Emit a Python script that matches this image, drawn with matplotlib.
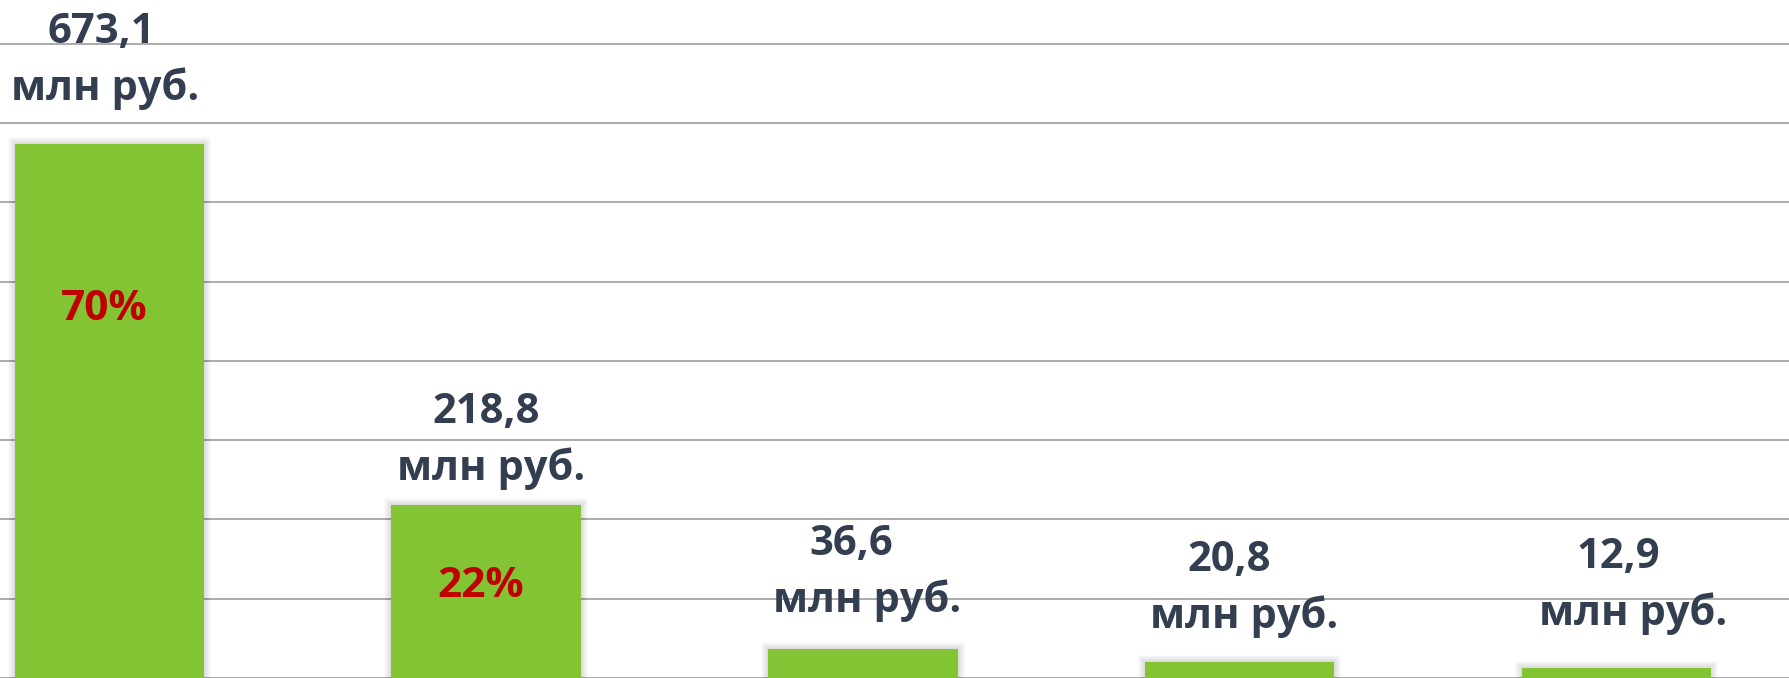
import matplotlib
matplotlib.use('Agg')
import matplotlib.pyplot as plt

# Dados do gráfico (млн руб.)
valores = [673.1, 218.8, 36.6, 20.8, 12.9]
rotulos_valor = ['673,1', '218,8', '36,6', '20,8', '12,9']
rotulo_unidade = 'млн руб.'
percentuais = ['70%', '22%']

# Ajustes finos de posição dos rótulos (em pixels)
desloc_y_linha2 = [44, 25, 37, 34, 43]
desloc_x_linha1 = [-8, 0, -12, -10, 2]
desloc_x_linha2 = [-4, 5, 4, 5, 17]
frac_percentual = [0.69, 0.525]

VERDE = '#82C434'
TEXTO = '#333F50'
VERMELHO = '#C00000'
GRADE = '#ABABAB'
DPI = 100
PX = 72.0 / DPI  # pixels -> pontos

fig = plt.figure(figsize=(17.9, 6.78), dpi=DPI)
ax = fig.add_axes([0, 0, 1, 1])

x = list(range(len(valores)))
largura = 0.503
px_x = 1 / 376.75   # unidades de x por pixel
px_y = 1 / 0.7929   # unidades de y por pixel

# sombra suave em volta das barras
for k in range(1, 8):
    ax.bar(x, [v + k * px_y for v in valores], width=largura + 2 * k * px_x,
           color='black', alpha=0.018, linewidth=0, zorder=1)

ax.bar(x, valores, width=largura, color=VERDE, linewidth=0, zorder=3)

fonte = dict(family=['Open Sans', 'DejaVu Sans'], fontweight='bold')

for i, v in enumerate(valores):
    dy2 = desloc_y_linha2[i]
    ax.annotate(rotulos_valor[i], (x[i], v),
                xytext=(desloc_x_linha1[i] * PX, (dy2 + 57) * PX),
                textcoords='offset points', ha='center', va='baseline',
                fontsize=30, color=TEXTO, zorder=5, **fonte)
    ax.annotate(rotulo_unidade, (x[i], v),
                xytext=(desloc_x_linha2[i] * PX, dy2 * PX),
                textcoords='offset points', ha='center', va='baseline',
                fontsize=30, color=TEXTO, zorder=5, **fonte)

for i, p in enumerate(percentuais):
    ax.text(x[i] - 0.013, valores[i] * frac_percentual[i], p,
            ha='center', va='center', fontsize=30.5, color=VERMELHO,
            zorder=5, **fonte)

ax.set_xlim(-0.290, 4.461)
ax.set_ylim(0, 855.1)
ax.set_yticks(range(0, 900, 100))
ax.yaxis.grid(True, color=GRADE, linewidth=1.4, zorder=0)
ax.set_axisbelow(True)
ax.tick_params(left=False, bottom=False, labelleft=False, labelbottom=False)
for s in ax.spines.values():
    s.set_visible(False)

fig.savefig('out.png', dpi=DPI)
